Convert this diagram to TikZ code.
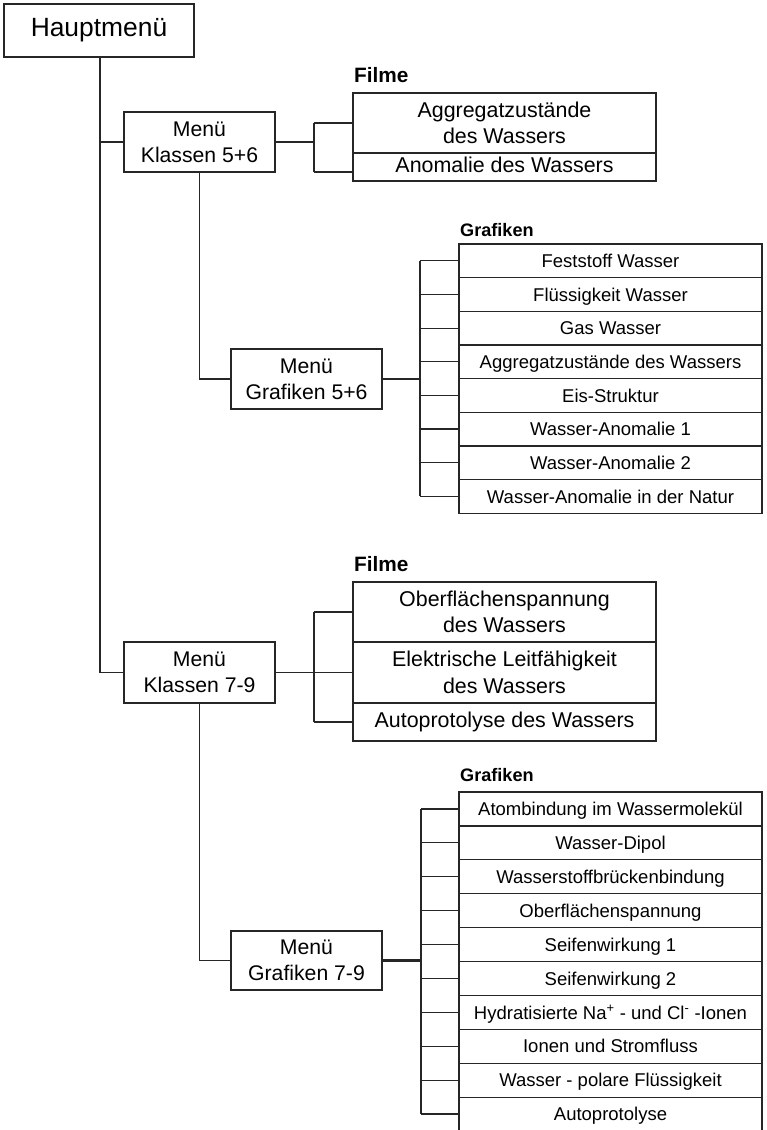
\documentclass[tikz,border=0pt]{standalone}
\usepackage{fontspec}
\setmainfont{Liberation Sans}
\newcommand{\rowtext}[1]{\raisebox{0pt}[13.4pt][0pt]{#1}}
\begin{document}
\begin{tikzpicture}[x=1pt,y=-1pt,
  line/.style={draw=black!85, line width=1.2pt},
  thickline/.style={draw=black!85, line width=2.2pt},
  box/.style={draw=black!85, line width=1.2pt, inner sep=0pt, outer sep=0pt, align=center, anchor=center},
  mainbox/.style={box, line width=2.6pt, minimum width=190pt, minimum height=53pt, font=\fontsize{26.4}{30}\selectfont},
  menubox/.style={box, minimum width=151pt, font=\fontsize{21.2}{26}\selectfont},
  filmbox/.style={box, minimum width=303pt, font=\fontsize{21.4}{26.5}\selectfont},
  itembox/.style={box, minimum width=303pt, font=\fontsize{18.5}{21}\selectfont},
  headA/.style={anchor=west, inner sep=0pt, font=\fontsize{20.8}{24}\selectfont\bfseries},
  headB/.style={anchor=west, inner sep=0pt, font=\fontsize{18.1}{21}\selectfont\bfseries}
]
\useasboundingbox[fill=white] (0,0) rectangle (766,1130);

% main
\node[mainbox] (haupt) at (99,30.5) {\strut Hauptmenü};

% Klassen 5+6
\node[menubox, minimum height=60pt] (k56) at (199.5,142) {Menü\\Klassen 5+6};
\node[headA] (film1) at (354,75) {Filme};
\node[filmbox, minimum height=60pt] (f1a) at (504.5,123) {Aggregatzustände\\des Wassers};
\node[filmbox, minimum height=28pt] (f1b) at (504.5,167) {\strut Anomalie des Wassers};
\coordinate (fb1) at (314,142);

\node[menubox, minimum height=60pt] (g56) at (306.5,379) {Menü\\Grafiken 5+6};
\node[headB] (graf1) at (460,230) {Grafiken};
\coordinate (gb1) at (420,379);
\foreach \t [count=\i from 0] in {Feststoff Wasser, Flüssigkeit Wasser, Gas Wasser, Aggregatzustände des Wassers, Eis-Struktur, Wasser-Anomalie 1, Wasser-Anomalie 2, Wasser-Anomalie in der Natur}{
  \node[itembox, minimum height=33.65pt] (a\i) at (610.5,{244+33.65*(\i+0.5)}) {\rowtext{\t}};
  \draw[line] (a\i.west) -- (a\i.west -| gb1);
}

% Klassen 7-9
\node[menubox, minimum height=61pt] (k79) at (199.5,672.5) {Menü\\Klassen 7-9};
\node[headA] (film2) at (354,564) {Filme};
\node[filmbox, minimum height=60pt] (f2a) at (504.5,612) {Oberflächenspannung\\des Wassers};
\node[filmbox, minimum height=61pt] (f2b) at (504.5,672.5) {Elektrische Leitfähigkeit\\des Wassers};
\node[filmbox, minimum height=38pt] (f2c) at (504.5,722) {\strut Autoprotolyse des Wassers};
\coordinate (fb2) at (314,672.5);

\node[menubox, minimum height=59pt] (g79) at (306.5,960.5) {Menü\\Grafiken 7-9};
\node[headB] (graf2) at (460,775) {Grafiken};
\coordinate (gb2) at (421,960.5);
\foreach \t [count=\i from 0] in {Atombindung im Wassermolekül, Wasser-Dipol, Wasserstoffbrückenbindung, Oberflächenspannung, Seifenwirkung 1, Seifenwirkung 2, {Hydratisierte Na\textsuperscript{+} - und Cl\textsuperscript{-} -Ionen}, Ionen und Stromfluss, Wasser - polare Flüssigkeit, Autoprotolyse}{
  \node[itembox, minimum height=33.9pt] (b\i) at (610.5,{792+33.9*(\i+0.5)}) {\rowtext{\t}};
  \draw[line] (b\i.west) -- (b\i.west -| gb2);
}

% connectors
\draw[line] (haupt.south -| 100,0) -- (k79.west -| 100,0) -- (k79.west);
\draw[line] (k56.west -| 100,0) -- (k56.west);

\draw[line] (k56.east) -- (fb1);
\draw[line] (f1a.west -| fb1) -- ([yshift=9pt]f1b.south west -| fb1);
\draw[line] (f1a.west -| fb1) -- (f1a.west);
\draw[line] ([yshift=9pt]f1b.south west -| fb1) -- ([yshift=9pt]f1b.south west);

\draw[line] (k56.south) |- (g56.west);
\draw[thickline] (g56.east) -- (gb1);
\draw[line] (a0.west -| gb1) -- (a7.west -| gb1);

\draw[line] (k79.east) -- (fb2);
\draw[line] (f2a.west -| fb2) -- (f2c.west -| fb2);
\draw[line] (f2a.west -| fb2) -- (f2a.west);
\draw[line] (f2b.west -| fb2) -- (f2b.west);
\draw[line] (f2c.west -| fb2) -- (f2c.west);

\draw[line] (k79.south) |- (g79.west);
\draw[thickline] (g79.east) -- (gb2);
\draw[line] (b0.west -| gb2) -- (b9.west -| gb2);
\end{tikzpicture}
\end{document}
